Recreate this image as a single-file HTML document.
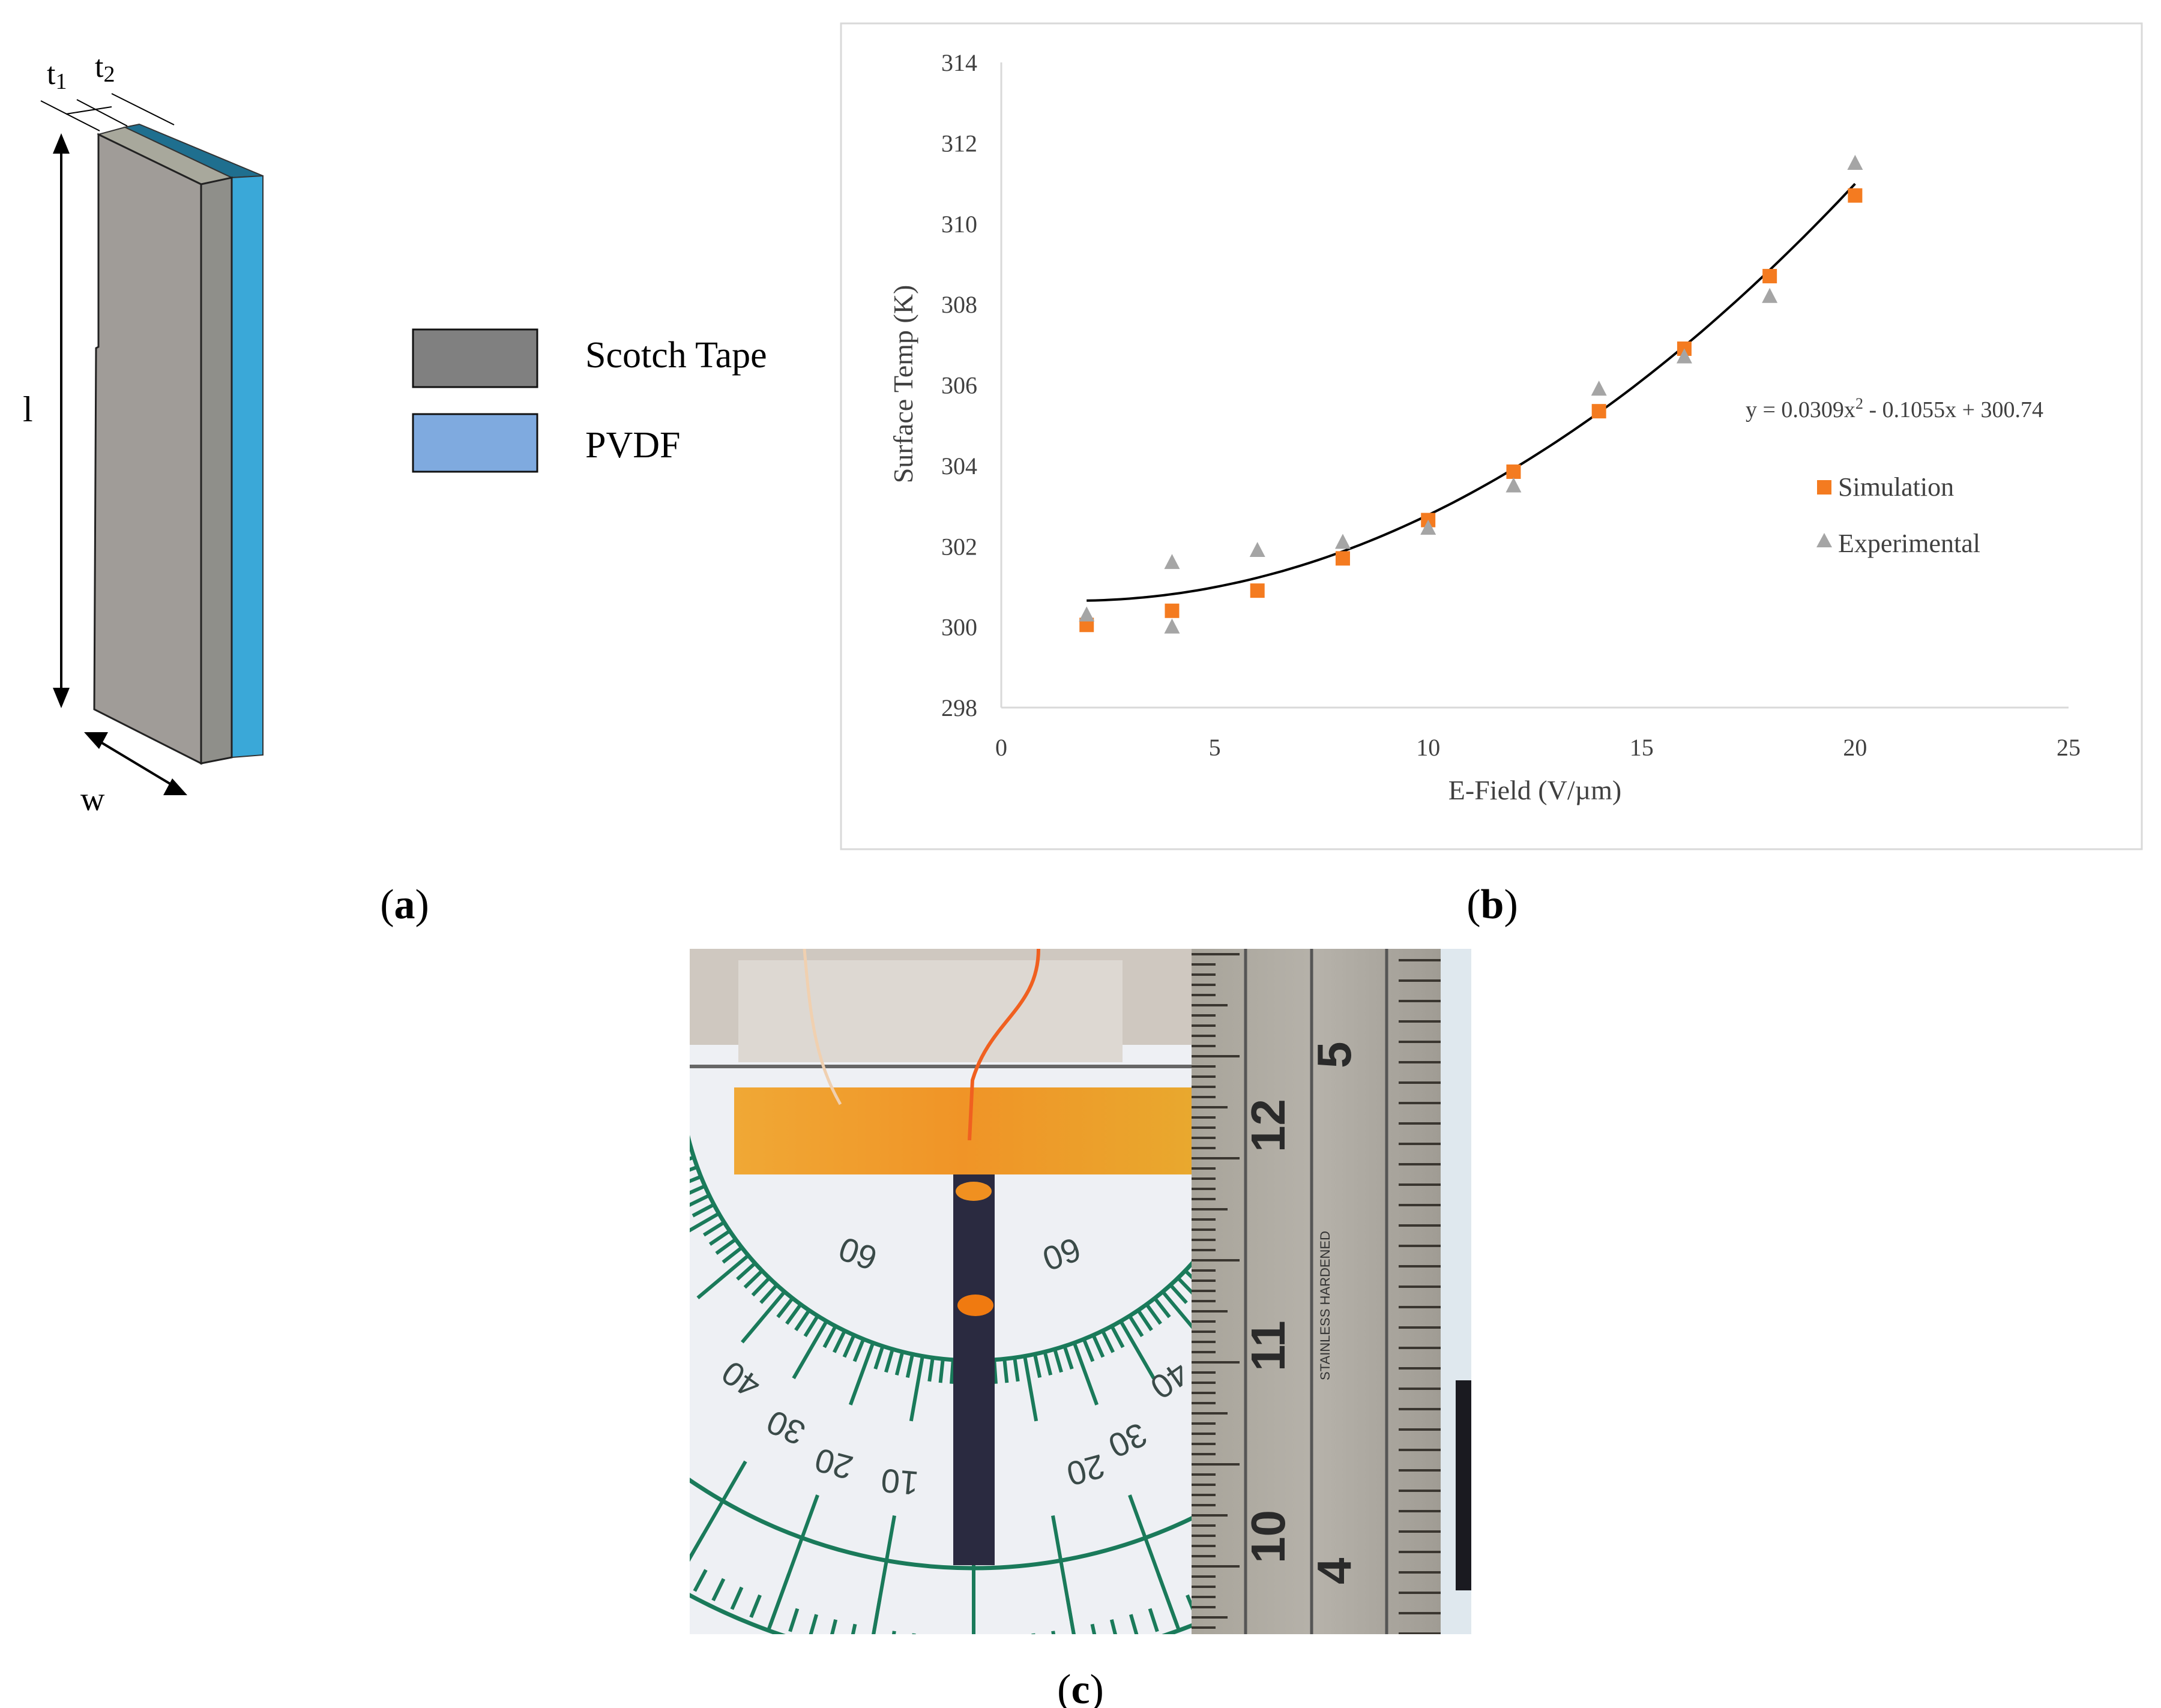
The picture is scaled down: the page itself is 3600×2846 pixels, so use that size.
<!DOCTYPE html>
<html><head><meta charset="utf-8"><style>
html,body{margin:0;padding:0;background:#fff;}
svg{display:block;font-family:"Liberation Serif",serif;}
</style></head><body>
<svg id="fig" width="3600" height="2846" viewBox="0 0 3600 2846" xmlns="http://www.w3.org/2000/svg">
<defs>
<linearGradient id="tapeG" x1="0" y1="0" x2="1" y2="0">
<stop offset="0" stop-color="#f0a020"/><stop offset="0.5" stop-color="#f08a10"/><stop offset="1" stop-color="#e8a018"/></linearGradient>
<linearGradient id="rulerG" x1="0" y1="0" x2="1" y2="0">
<stop offset="0" stop-color="#a8a49a"/><stop offset="0.5" stop-color="#b6b2aa"/><stop offset="1" stop-color="#a09c94"/></linearGradient>
<clipPath id="photoClip"><rect x="1149" y="1581" width="1302" height="1142"/></clipPath>
</defs>

<!-- Panel (a) -->
<g>
<polygon points="208,212 232,207 438,293 386,296" fill="#1f6f8f" stroke="#333" stroke-width="2"/>
<polygon points="386,296 438,293 438,1258 386,1262" fill="#3aa8d8" stroke="#333" stroke-width="2"/>
<polygon points="164,224 208,212 386,296 335,307" fill="#a8a89c" stroke="#333" stroke-width="2"/>
<polygon points="335,307 386,296 386,1262 335,1272" fill="#8f8f8a" stroke="#222" stroke-width="3"/>
<polygon points="164,224 335,307 335,1272 157,1182 160,580 164,578" fill="#a09c98" stroke="#222" stroke-width="3"/>
<g stroke="#000" stroke-width="2" fill="none">
<line x1="68" y1="168" x2="166" y2="218"/><line x1="128" y1="166" x2="212" y2="210"/><line x1="186" y1="156" x2="290" y2="208"/>
<line x1="110" y1="190" x2="186" y2="178"/>
</g>
<text x="78" y="140" font-size="52">t<tspan font-size="38" dy="8">1</tspan></text>
<text x="158" y="128" font-size="52">t<tspan font-size="38" dy="8">2</tspan></text>
<g>
<line x1="102" y1="250" x2="102" y2="1150" stroke="#000" stroke-width="4"/>
<polygon points="102,222 88,256 116,256" fill="#000"/>
<polygon points="102,1180 88,1146 116,1146" fill="#000"/>
</g>
<text x="38" y="702" font-size="60">l</text>
<g>
<line x1="160" y1="1232" x2="290" y2="1310" stroke="#000" stroke-width="4"/>
<polygon points="140,1220 180,1220 165,1248" fill="#000"/>
<polygon points="312,1325 272,1325 287,1297" fill="#000"/>
</g>
<text x="134" y="1350" font-size="56">w</text>
<rect x="688" y="549" width="207" height="96" fill="#808080" stroke="#111" stroke-width="3"/>
<rect x="688" y="690" width="207" height="96" fill="#7faadf" stroke="#111" stroke-width="3"/>
<text x="975" y="612" font-size="62">Scotch  Tape</text>
<text x="975" y="762" font-size="62">PVDF</text>
</g>

<!-- Panel (b) chart -->
<rect x="1401" y="39" width="2167" height="1376" fill="#fff" stroke="#d9d9d9" stroke-width="3"/>
<g id="chart"></g>

<!-- Panel labels -->
<text x="674" y="1530" font-size="70" text-anchor="middle">(<tspan font-weight="bold">a</tspan>)</text>
<text x="2486" y="1530" font-size="70" text-anchor="middle">(<tspan font-weight="bold">b</tspan>)</text>
<text x="1800" y="2838" font-size="70" text-anchor="middle">(<tspan font-weight="bold">c</tspan>)</text>

<!-- Panel (c) photo approximation -->
<g clip-path="url(#photoClip)">
<rect x="1149" y="1581" width="1302" height="1142" fill="#eef0f4"/>
<rect x="1149" y="1581" width="840" height="160" fill="#cfc8c0"/>
<rect x="1230" y="1600" width="640" height="170" fill="#ddd8d2"/>
<g fill="none" stroke="#1a7a5a" stroke-width="7">
<path d="M1132,1777 A490,490 0 0 0 2112,1777"/>
<path d="M786,1777 A836,836 0 0 0 2458,1777"/>
<path d="M622,1777 A1000,1000 0 0 0 2622,1777"/>
</g>
<g id="protTicks" stroke="#1a7a5a" stroke-width="6"></g>
<line x1="1149" y1="1777" x2="1985" y2="1777" stroke="#666" stroke-width="6"/>
<g font-family="Liberation Sans,sans-serif" font-size="56" fill="#3a4a48">
<text x="1400" y="2110" transform="rotate(200 1430 2090)">60</text>
<text x="1740" y="2110" transform="rotate(160 1770 2090)">60</text>
<text x="1205" y="2320" transform="rotate(215 1235 2300)">40</text>
<text x="1280" y="2400" transform="rotate(205 1310 2380)">30</text>
<text x="1360" y="2460" transform="rotate(195 1390 2440)">20</text>
<text x="1470" y="2490" transform="rotate(185 1500 2470)">10</text>
<text x="1780" y="2470" transform="rotate(165 1810 2450)">20</text>
<text x="1850" y="2420" transform="rotate(155 1880 2400)">30</text>
<text x="1920" y="2320" transform="rotate(145 1950 2300)">40</text>
</g>
<rect x="1223" y="1812" width="762" height="145" fill="url(#tapeG)" opacity="0.9"/>
<path d="M1340,1581 C1350,1700 1360,1770 1400,1840" stroke="#f0d0b0" stroke-width="5" fill="none"/>
<path d="M1730,1581 C1730,1680 1650,1700 1620,1800 L1615,1900" stroke="#f06020" stroke-width="6" fill="none"/>
<rect x="1588" y="1957" width="69" height="651" fill="#2a2a40"/>
<ellipse cx="1622" cy="1985" rx="30" ry="16" fill="#f09020"/>
<ellipse cx="1625" cy="2175" rx="30" ry="18" fill="#f07a10"/>
<rect x="1985" y="1581" width="415" height="1142" fill="url(#rulerG)"/>
<g id="rulerTicks" stroke="#3a3630" stroke-width="4"></g>
<line x1="2075" y1="1581" x2="2075" y2="2723" stroke="#555" stroke-width="5"/>
<line x1="2185" y1="1581" x2="2185" y2="2723" stroke="#555" stroke-width="5"/>
<line x1="2310" y1="1581" x2="2310" y2="2723" stroke="#555" stroke-width="5"/>
<g font-family="Liberation Sans,sans-serif" font-size="80" font-weight="bold" fill="#2a2a2a">
<text transform="translate(2140,1920) rotate(-90)">12</text>
<text transform="translate(2140,2285) rotate(-90)">11</text>
<text transform="translate(2140,2605) rotate(-90)">10</text>
<text transform="translate(2250,1780) rotate(-90)">5</text>
<text transform="translate(2250,2640) rotate(-90)">4</text>
</g>
<text transform="translate(2215,2300) rotate(-90)" font-family="Liberation Sans,sans-serif" font-size="22" fill="#333">STAINLESS HARDENED</text>
<rect x="2400" y="1581" width="51" height="1142" fill="#dfe8ee"/>
<rect x="2425" y="2300" width="26" height="350" fill="#1a1a20"/>
</g>

<script>
// ---- Chart data ----
var xTicks = [0, 5, 10, 15, 20, 25];
var yTicks = [298, 300, 302, 304, 306, 308, 310, 312, 314];
var simX = [2, 4, 6, 8, 10, 12, 14, 16, 18, 20];
var simY = [300.05, 300.4, 300.9, 301.7, 302.65, 303.85, 305.35, 306.9, 308.7, 310.7];
var expX = [2, 4, 4, 6, 8, 10, 12, 14, 16, 18, 20];
var expY = [300.3, 301.6, 300.0, 301.9, 302.1, 302.45, 303.5, 305.9, 306.7, 308.2, 311.5];
var fitCoef = [0.0309, -0.1055, 300.74];
var fitRange = [2, 20];

var NS = 'http://www.w3.org/2000/svg';
var PX0 = 1668, PX1 = 3446, PY0 = 1179, PY1 = 104;
function sx(v){ return PX0 + (v - 0) / (25 - 0) * (PX1 - PX0); }
function sy(v){ return PY0 - (v - 298) / (314 - 298) * (PY0 - PY1); }
function mk(tag, attrs, parent){ var e = document.createElementNS(NS, tag); for (var k in attrs) e.setAttribute(k, attrs[k]); parent.appendChild(e); return e; }

var chart = document.getElementById('chart');
var ax = mk('line', {x1: sx(0), y1: sy(314), x2: sx(0), y2: sy(298), stroke: '#d9d9d9', 'stroke-width': 3}, chart);


var axx = mk('line', {x1: sx(0), y1: sy(298), x2: sx(25), y2: sy(298), stroke: '#d9d9d9', 'stroke-width': 3}, chart);



yTicks.forEach(function(t){
  var tx = mk('text', {x: sx(0) - 40, y: sy(t) + 14, 'font-size': 40, 'text-anchor': 'end', fill: '#404040'}, chart);
  tx.textContent = t;
  
  
});
xTicks.forEach(function(t){
  var tx = mk('text', {x: sx(t), y: sy(298) + 80, 'font-size': 40, 'text-anchor': 'middle', fill: '#404040'}, chart);
  tx.textContent = t;
  
  
});
var xt = mk('text', {x: (sx(0) + sx(25)) / 2 + 0, y: 1332, 'font-size': 46, 'text-anchor': 'middle', fill: '#404040'}, chart);
xt.textContent = 'E-Field (V/\u00b5m)';


var yt = mk('text', {x: 0, y: 0, 'font-size': 46, 'text-anchor': 'middle', fill: '#404040', transform: 'translate(1520,640) rotate(-90)'}, chart);
yt.textContent = 'Surface Temp (K)';



// trendline
var d = '';
for (var i = 0; i <= 90; i++) {
  var xv = fitRange[0] + (fitRange[1] - fitRange[0]) * i / 90;
  var yv = fitCoef[0] * xv * xv + fitCoef[1] * xv + fitCoef[2];
  d += (i ? 'L' : 'M') + sx(xv).toFixed(1) + ',' + sy(yv).toFixed(1);
}
var tl = mk('path', {d: d, fill: 'none', stroke: '#000', 'stroke-width': 4}, chart);



simX.forEach(function(x, i){
  var r = mk('rect', {x: sx(x) - 12, y: sy(simY[i]) - 12, width: 24, height: 24, fill: '#f47b20'}, chart);
  
  
});
expX.forEach(function(x, i){
  var cx = sx(x), cy = sy(expY[i]);
  var p = mk('polygon', {points: cx + ',' + (cy - 14) + ' ' + (cx - 13) + ',' + (cy + 11) + ' ' + (cx + 13) + ',' + (cy + 11), fill: '#a5a5a5'}, chart);
  
  
});

var eq = mk('text', {x: 2908, y: 695, 'font-size': 38, fill: '#404040'}, chart);


var e1 = mk('tspan', {}, eq); e1.textContent = 'y = 0.0309x';
var e2 = mk('tspan', {'font-size': 26, dy: -14}, eq); e2.textContent = '2';
var e3 = mk('tspan', {dy: 14}, eq); e3.textContent = ' - 0.1055x + 300.74';

var ls = mk('rect', {x: 3027, y: 800, width: 24, height: 24, fill: '#f47b20'}, chart);


var lst = mk('text', {x: 3062, y: 826, 'font-size': 44, fill: '#404040'}, chart);
lst.textContent = 'Simulation';


var le = mk('polygon', {points: '3039,888 3026,912 3052,912', fill: '#a5a5a5'}, chart);


var let_ = mk('text', {x: 3062, y: 920, 'font-size': 44, fill: '#404040'}, chart);
let_.textContent = 'Experimental';



// photo decorations
var pt = document.getElementById('protTicks');
var CX = 1622, CY = 1777;
for (var a = 0; a <= 180; a += 2) {
  var rad = a * Math.PI / 180;
  var big = (a % 10 === 0), mid = (a % 5 === 0);
  var r0 = 490, r1 = big ? 600 : (mid ? 560 : 530);
  mk('line', {x1: CX + r0 * Math.cos(rad), y1: CY + r0 * Math.sin(rad), x2: CX + r1 * Math.cos(rad), y2: CY + r1 * Math.sin(rad)}, pt);
  var q0 = 990, q1 = big ? 900 : 950;
  mk('line', {x1: CX + q0 * Math.cos(rad), y1: CY + q0 * Math.sin(rad), x2: CX + q1 * Math.cos(rad), y2: CY + q1 * Math.sin(rad)}, pt);
  if (big) mk('line', {x1: CX + 760 * Math.cos(rad), y1: CY + 760 * Math.sin(rad), x2: CX + 1000 * Math.cos(rad), y2: CY + 1000 * Math.sin(rad)}, pt);
}
var rt = document.getElementById('rulerTicks');
for (var yy = 1590; yy < 2723; yy += 17) {
  var k = Math.round((yy - 1590) / 17);
  mk('line', {x1: 1985, y1: yy, x2: 1985 + (k % 10 === 0 ? 80 : (k % 5 === 0 ? 60 : 40)), y2: yy}, rt);
}
for (var yy2 = 1600; yy2 < 2723; yy2 += 34) {
  mk('line', {x1: 2330, y1: yy2, x2: 2400, y2: yy2}, rt);
}
</script>
</svg>
</body></html>
